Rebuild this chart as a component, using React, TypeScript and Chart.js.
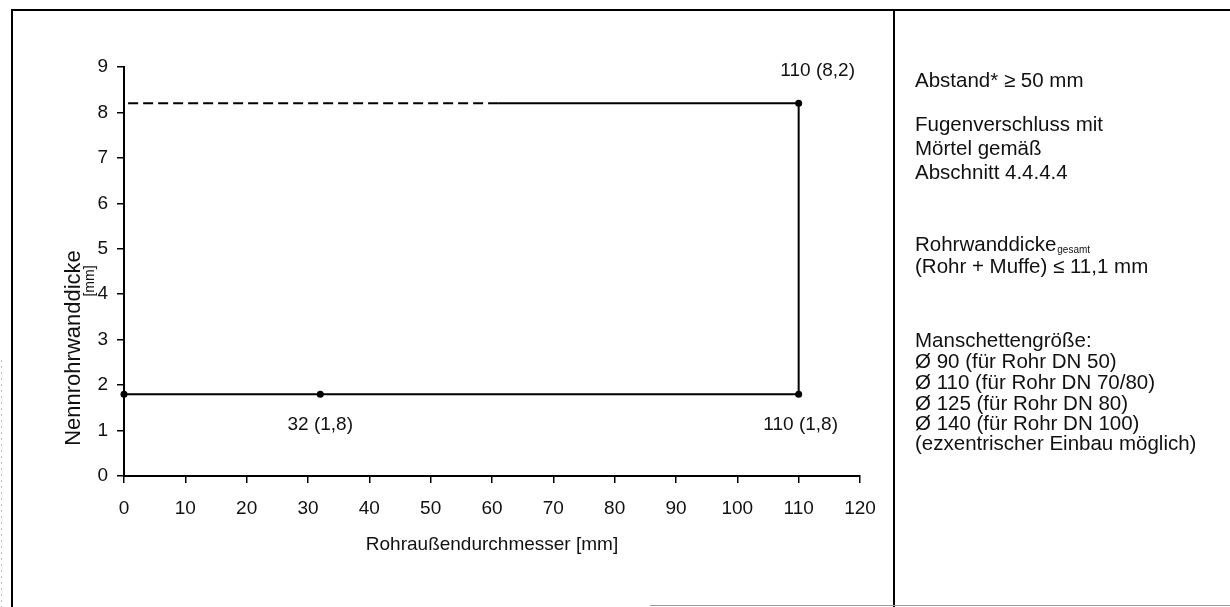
import React, { useEffect, useRef } from "react";
import { Chart, registerables } from "chart.js";

Chart.register(...registerables);

// ---- data ----
const xMin = 0;
const xMax = 120;
const xStep = 10;
const yMin = 0;
const yMax = 9;
const yStep = 1;

// solid outline: (0,1.8) -> (32,1.8) -> (110,1.8) -> (110,8.2) -> (61,8.2)
const solidX = [0, 32, 110, 110, 61];
const solidY = [1.8, 1.8, 1.8, 8.2, 8.2];
const solidMarker = [true, true, true, true, false];

// dashed continuation at 8.2 back to the y axis
const dashedX = [61, 0];
const dashedY = [8.2, 8.2];

const pointLabelTexts = ["110 (8,2)", "32 (1,8)", "110 (1,8)"];
const pointLabelX = [110, 32, 110];
const pointLabelY = [8.2, 1.8, 1.8];

const xAxisTitle = "Rohraußendurchmesser [mm]";
const yAxisTitle = "Nennrohrwanddicke";
const yAxisUnit = "[mm]";

const noteLines = [
  "Abstand* ≥ 50 mm",
  "Fugenverschluss mit",
  "Mörtel gemäß",
  "Abschnitt 4.4.4.4",
  "Rohrwanddicke",
  "(Rohr + Muffe) ≤ 11,1 mm",
  "Manschettengröße:",
  "Ø 90 (für Rohr DN 50)",
  "Ø 110 (für Rohr DN 70/80)",
  "Ø 125 (für Rohr DN 80)",
  "Ø 140 (für Rohr DN 100)",
  "(ezxentrischer Einbau möglich)",
];
const noteSubscript = "gesamt"; // attached to "Rohrwanddicke"

// ---- layout (not data) ----
const FONT = "'Liberation Sans', Arial, Helvetica, sans-serif";
const W = 1230;
const H = 607;
const noteX = 915;
const noteYs = [81, 125, 149, 173, 245, 267, 341, 362, 383, 404, 424, 444];
const labelOffsets = [
  [19, -33],
  [0, 31],
  [2, 31],
];

const decorPlugin = {
  id: "decor",
  beforeDraw(chart: any) {
    const ctx = chart.ctx;
    ctx.save();
    ctx.fillStyle = "#fff";
    ctx.fillRect(0, 0, W, H);
    ctx.restore();
  },
  afterDraw(chart: any) {
    const ctx: CanvasRenderingContext2D = chart.ctx;
    const xs = chart.scales.x;
    const ys = chart.scales.y;
    ctx.save();

    // frame
    ctx.strokeStyle = "#000";
    ctx.lineWidth = 2;
    ctx.beginPath();
    ctx.moveTo(12, H);
    ctx.lineTo(12, 10);
    ctx.lineTo(W, 10);
    ctx.moveTo(894, 10);
    ctx.lineTo(894, H);
    ctx.stroke();

    ctx.strokeStyle = "#9a9a9a";
    ctx.lineWidth = 1;
    ctx.beginPath();
    ctx.moveTo(650, 605.5);
    ctx.lineTo(W, 605.5);
    ctx.stroke();

    ctx.strokeStyle = "#bbb";
    ctx.setLineDash([2, 4]);
    ctx.beginPath();
    ctx.moveTo(1.5, 360);
    ctx.lineTo(1.5, H);
    ctx.stroke();
    ctx.setLineDash([]);

    // point labels
    ctx.fillStyle = "#111";
    ctx.font = `19px ${FONT}`;
    ctx.textAlign = "center";
    ctx.textBaseline = "middle";
    pointLabelTexts.forEach((t, i) => {
      const px = xs.getPixelForValue(pointLabelX[i]) + labelOffsets[i][0];
      const py = ys.getPixelForValue(pointLabelY[i]) + labelOffsets[i][1];
      ctx.fillText(t, px, py);
    });

    // y axis title (two overlapping lines as in the scan)
    ctx.save();
    ctx.translate(74, 348);
    ctx.rotate(-Math.PI / 2);
    ctx.font = `22px ${FONT}`;
    ctx.fillText(yAxisTitle, 0, 0);
    ctx.restore();
    ctx.save();
    ctx.translate(90, 281);
    ctx.rotate(-Math.PI / 2);
    ctx.font = `14px ${FONT}`;
    ctx.fillText(yAxisUnit, 0, 0);
    ctx.restore();

    // notes
    ctx.textAlign = "left";
    noteLines.forEach((t, i) => {
      ctx.font = `20.5px ${FONT}`;
      ctx.fillText(t, noteX, noteYs[i]);
      if (t === "Rohrwanddicke") {
        const w = ctx.measureText(t).width;
        ctx.font = `10px ${FONT}`;
        ctx.fillText(noteSubscript, noteX + w + 1, noteYs[i] + 5);
      }
    });

    ctx.restore();
  },
};

export default function App() {
  const ref = useRef<HTMLCanvasElement>(null);

  useEffect(() => {
    const canvas = ref.current;
    if (!canvas) return;
    const tickFont = { family: FONT, size: 19 };
    const chart = new Chart(canvas, {
      type: "scatter",
      data: {
        datasets: [
          {
            data: solidX.map((x, i) => ({ x, y: solidY[i] })),
            showLine: true,
            borderColor: "#000",
            borderWidth: 2,
            backgroundColor: "#000",
            pointRadius: solidMarker.map((m) => (m ? 3.5 : 0)),
            pointBackgroundColor: "#000",
            pointBorderColor: "#000",
            pointBorderWidth: 0,
            tension: 0,
            clip: false,
          } as any,
          {
            data: dashedX.map((x, i) => ({ x, y: dashedY[i] })),
            showLine: true,
            borderColor: "#000",
            borderWidth: 2,
            borderDash: [10, 5],
            pointRadius: 0,
            tension: 0,
            clip: false,
          } as any,
        ],
      },
      options: {
        animation: false,
        responsive: false,
        devicePixelRatio: 1,
        layout: { padding: { left: 0, right: 370, top: 67, bottom: 0 } },
        plugins: {
          legend: { display: false },
          tooltip: { enabled: false },
        },
        scales: {
          x: {
            type: "linear",
            min: xMin,
            max: xMax,
            ticks: { stepSize: xStep, color: "#111", font: tickFont, padding: 14 },
            grid: {
              drawOnChartArea: false,
              drawTicks: true,
              tickLength: 7,
              color: "#000",
              lineWidth: 1.5,
            },
            border: { display: true, color: "#000", width: 2 },
            title: {
              display: true,
              text: xAxisTitle,
              color: "#111",
              font: { family: FONT, size: 19 },
              padding: { top: 0, bottom: 51 },
            },
            afterFit: (s: any) => {
              s.height = 131;
            },
          },
          y: {
            type: "linear",
            min: yMin,
            max: yMax,
            ticks: { stepSize: yStep, color: "#111", font: tickFont, padding: 9 },
            grid: {
              drawOnChartArea: false,
              drawTicks: true,
              tickLength: 7,
              color: "#000",
              lineWidth: 1.5,
            },
            border: { display: true, color: "#000", width: 2 },
            afterFit: (s: any) => {
              s.width = 124;
            },
          },
        },
      } as any,
      plugins: [decorPlugin],
    });
    return () => chart.destroy();
  }, []);

  return (
    <div style={{ position: "fixed", left: 0, top: 0, width: W, height: H, background: "#fff" }}>
      <canvas ref={ref} width={W} height={H} style={{ display: "block", width: W, height: H }} />
    </div>
  );
}
